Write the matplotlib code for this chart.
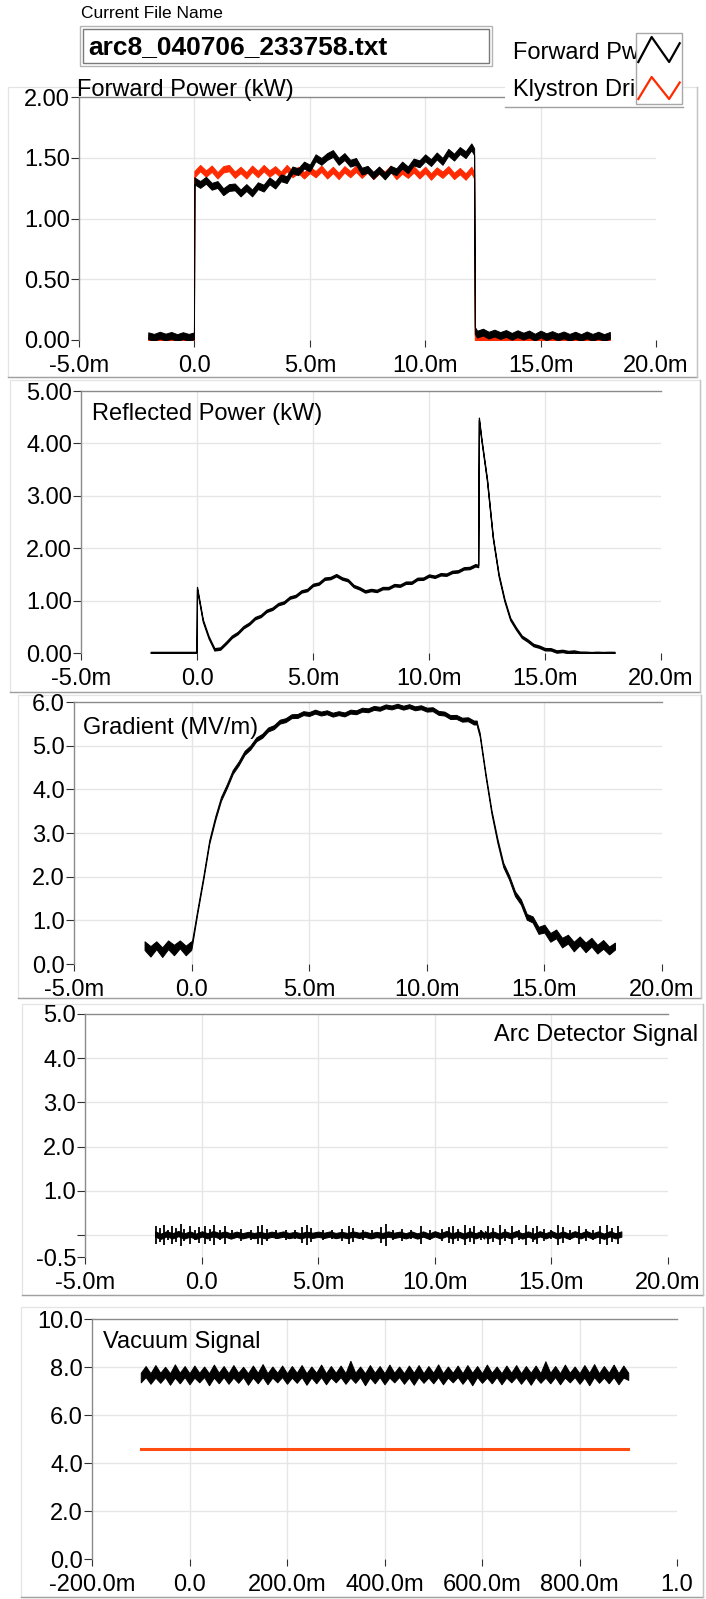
import matplotlib
matplotlib.use("Agg")
import matplotlib.pyplot as plt
import numpy as np
from matplotlib.patches import Rectangle
from matplotlib.lines import Line2D

W, H = 706, 1599
FONT = "Liberation Sans"
TICK_SIZE = 17
TITLE_SIZE = 17

FILE_NAME = "arc8_040706_233758.txt"
LEGEND_NAMES = ["Forward Pw", "Klystron Dri"]

# time base for the four pulse traces (ms): before, during and after the pulse
T_PRE = [-2.0, -1.75, -1.5, -1.25, -1.0, -0.75, -0.5, -0.25, -0.02]
T_ON = [0.0, 0.25, 0.5, 0.75, 1.0, 1.25, 1.5, 1.75, 2.0, 2.25,
        2.5, 2.75, 3.0, 3.25, 3.5, 3.75, 4.0, 4.25, 4.5, 4.75,
        5.0, 5.25, 5.5, 5.75, 6.0, 6.25, 6.5, 6.75, 7.0, 7.25,
        7.5, 7.75, 8.0, 8.25, 8.5, 8.75, 9.0, 9.25, 9.5, 9.75,
        10.0, 10.25, 10.5, 10.75, 11.0, 11.25, 11.5, 11.75, 12.0, 12.12]
T_OFF = [12.15, 12.25, 12.5, 12.75, 13.0, 13.25, 13.5, 13.75, 14.0, 14.25,
         14.5, 14.75, 15.0, 15.25, 15.5, 15.75, 16.0, 16.25, 16.5, 16.75,
         17.0, 17.25, 17.5, 17.75, 18.0]

# forward power (kW), black trace: smooth level + signed noise sample
FWD_MID = ([0.03] * 9 +
           [1.30, 1.30, 1.29, 1.28, 1.26, 1.25, 1.24, 1.23, 1.23, 1.23,
            1.24, 1.25, 1.26, 1.28, 1.30, 1.32, 1.34, 1.37, 1.40, 1.42,
            1.44, 1.47, 1.49, 1.50, 1.51, 1.50, 1.49, 1.47, 1.44, 1.41,
            1.39, 1.38, 1.37, 1.37, 1.38, 1.40, 1.42, 1.43, 1.44, 1.46,
            1.47, 1.48, 1.49, 1.50, 1.51, 1.52, 1.53, 1.55, 1.56, 1.56] +
           [0.07, 0.06, 0.05, 0.05, 0.045, 0.045, 0.04, 0.04, 0.04, 0.04,
            0.04, 0.035, 0.035, 0.035, 0.035, 0.035, 0.03, 0.03, 0.03, 0.03,
            0.03, 0.03, 0.03, 0.03, 0.03])
FWD_JIT = ([0.005, -0.008, 0.01, -0.006, 0.008, -0.01, 0.006, -0.008, 0.004] +
           [0.01, -0.02, 0.025, -0.015, 0.02, -0.03, 0.015, 0.03, -0.02, 0.025,
            -0.03, 0.02, -0.01, 0.03, -0.025, 0.015, -0.02, 0.03, -0.015, 0.02,
            -0.025, 0.03, -0.02, 0.01, 0.025, -0.03, 0.02, -0.015, 0.03, -0.02,
            0.015, -0.025, 0.03, -0.02, 0.025, -0.015, 0.02, -0.03, 0.025, -0.01,
            0.03, -0.02, 0.025, -0.03, 0.035, -0.015, 0.03, -0.025, 0.03, -0.01] +
           [0.01, -0.012, 0.015, -0.01, 0.012, -0.008, 0.014, -0.01, 0.012, -0.008,
            0.01, -0.012, 0.014, -0.008, 0.01, -0.01, 0.012, -0.008, 0.01, -0.01,
            0.012, -0.008, 0.01, -0.01, 0.008])
FWD_TH = 0.028

# klystron drive, red trace
KLY_MID = ([0.01] * 9 +
           [1.385] * 20 + [1.38] * 15 + [1.375] * 15 +
           [0.01] * 25)
KLY_JIT = ([0.004, -0.005, 0.003, -0.004, 0.005, -0.003, 0.004, -0.005, 0.003] +
           [-0.02, 0.03, -0.015, 0.025, -0.03, 0.02, 0.03, -0.025, 0.015, -0.03,
            0.025, -0.02, 0.03, -0.015, 0.02, -0.025, 0.03, -0.02, 0.015, -0.03,
            0.02, -0.015, 0.03, -0.025, 0.02, -0.03, 0.025, -0.015, 0.03, -0.02,
            0.025, -0.03, 0.015, -0.02, 0.03, -0.025, 0.02, -0.015, 0.03, -0.02,
            0.025, -0.03, 0.02, -0.015, 0.03, -0.025, 0.015, -0.03, 0.025, -0.02] +
           [0.004, -0.005, 0.003, -0.004, 0.005, -0.003, 0.004, -0.005, 0.003, -0.004,
            0.005, -0.003, 0.004, -0.005, 0.003, -0.004, 0.005, -0.003, 0.004, -0.005,
            0.003, -0.004, 0.005, -0.003, 0.004])
KLY_TH = 0.026

# reflected power (kW)
REF_MID = ([0.0] * 9 +
           [1.24, 0.62, 0.30, 0.07, 0.08, 0.20, 0.30, 0.39, 0.48, 0.57,
            0.65, 0.72, 0.79, 0.86, 0.92, 0.98, 1.04, 1.10, 1.16, 1.22,
            1.28, 1.34, 1.40, 1.45, 1.47, 1.44, 1.37, 1.29, 1.22, 1.19,
            1.19, 1.20, 1.22, 1.25, 1.28, 1.30, 1.33, 1.36, 1.40, 1.43,
            1.46, 1.47, 1.49, 1.51, 1.53, 1.57, 1.60, 1.64, 1.66, 1.66] +
           [4.47, 4.10, 3.30, 2.20, 1.50, 1.00, 0.66, 0.46, 0.32, 0.23,
            0.16, 0.11, 0.08, 0.06, 0.04, 0.03, 0.03, 0.02, 0.01, 0.0,
            0.0, 0.0, 0.0, 0.0, 0.0])
REF_JIT = ([0.0] * 9 +
           [0.0, 0.0, 0.0, 0.0, 0.005, -0.008, 0.01, -0.01, 0.012, -0.01,
            0.015, -0.012, 0.015, -0.015, 0.012, -0.015, 0.018, -0.012, 0.015, -0.018,
            0.02, -0.015, 0.018, -0.02, 0.015, -0.018, 0.02, -0.012, 0.015, -0.015,
            0.012, -0.015, 0.018, -0.012, 0.015, -0.015, 0.012, -0.018, 0.015, -0.012,
            0.018, -0.015, 0.012, -0.015, 0.018, -0.012, 0.015, -0.018, 0.015, 0.0] +
           [0.0, 0.0, 0.0, 0.01, -0.01, 0.01, -0.01, 0.008, -0.01, 0.008,
            -0.008, 0.01, -0.008, 0.01, -0.012, 0.01, -0.012, 0.008, -0.005, 0.004,
            -0.003, 0.003, -0.002, 0.002, 0.0])
REF_TH = 0.022

# gradient (MV/m)
GRAD_MID = ([0.36, 0.37, 0.38, 0.36, 0.37, 0.38, 0.37, 0.36, 0.38] +
            [0.42, 1.20, 2.00, 2.78, 3.35, 3.76, 4.09, 4.38, 4.62, 4.82,
             4.98, 5.12, 5.24, 5.35, 5.45, 5.53, 5.60, 5.65, 5.70, 5.73,
             5.75, 5.76, 5.75, 5.74, 5.73, 5.73, 5.74, 5.76, 5.78, 5.80,
             5.83, 5.85, 5.87, 5.88, 5.89, 5.89, 5.89, 5.89, 5.88, 5.86,
             5.84, 5.81, 5.77, 5.72, 5.68, 5.64, 5.61, 5.58, 5.55, 5.53] +
            [5.45, 5.25, 4.30, 3.50, 2.80, 2.30, 1.95, 1.65, 1.38, 1.13,
             0.97, 0.83, 0.74, 0.67, 0.61, 0.56, 0.51, 0.48, 0.46, 0.44,
             0.42, 0.40, 0.39, 0.38, 0.37])
GRAD_JIT = ([0.06, -0.08, 0.05, -0.09, 0.07, -0.06, 0.08, -0.05, 0.04] +
            [0.0, 0.02, -0.02, 0.015, -0.02, 0.025, -0.015, 0.02, -0.025, 0.015,
             -0.02, 0.025, -0.015, 0.02, -0.025, 0.02, -0.015, 0.025, -0.02, 0.015,
             -0.025, 0.02, -0.015, 0.025, -0.02, 0.015, -0.025, 0.02, -0.015, 0.025,
             -0.02, 0.015, -0.025, 0.02, -0.015, 0.025, -0.02, 0.015, -0.025, 0.02,
             -0.015, 0.025, -0.02, 0.015, -0.025, 0.02, -0.015, 0.025, -0.02, 0.0] +
            [0.0, 0.0, 0.02, -0.02, 0.025, -0.03, 0.03, -0.04, 0.04, -0.05,
             0.05, -0.06, 0.07, -0.06, 0.08, -0.07, 0.06, -0.08, 0.07, -0.06,
             0.08, -0.06, 0.06, -0.07, 0.04])
GRAD_TH = ([0.10, 0.12, 0.09, 0.11, 0.10, 0.12, 0.09, 0.11, 0.10] +
           [0.06] + [0.045] * 49 +
           [0.045, 0.045, 0.045, 0.045, 0.05, 0.05, 0.05, 0.055, 0.06, 0.065,
            0.07, 0.08, 0.09, 0.10, 0.10, 0.11, 0.10, 0.11, 0.10, 0.11,
            0.10, 0.10, 0.10, 0.09, 0.08])

# arc detector signal: thin noise core around zero plus spikes
ARC_LEVEL = 0.0
ARC_JIT = ([0.02, -0.03, 0.025, -0.02, 0.03, -0.025, 0.02, -0.03, 0.015] +
           [0.025, -0.02, 0.03, -0.015, 0.02, -0.025, 0.015, -0.02, 0.01, -0.015,
            0.01, -0.02, 0.015, -0.01, 0.02, -0.015, 0.01, -0.02, 0.015, -0.01,
            0.015, -0.01, 0.02, -0.015, 0.01, -0.015, 0.02, -0.01, 0.015, -0.02,
            0.01, -0.015, 0.02, -0.01, 0.015, -0.02, 0.02, -0.025, 0.02, -0.03,
            0.025, -0.02, 0.03, -0.025, 0.02, -0.03, 0.025, -0.02, 0.03, -0.025] +
           [0.03, -0.025, 0.02, -0.03, 0.025, -0.02, 0.03, -0.025, 0.02, -0.03,
            0.025, -0.02, 0.03, -0.025, 0.02, -0.03, 0.025, -0.02, 0.03, -0.025,
            0.02, -0.03, 0.025, -0.02, 0.02])
ARC_TH = 0.06
ARC_SPIKE_T = [-1.95, -1.8, -1.6, -1.45, -1.25, -1.1, -0.9, -0.75, -0.5, -0.3, -0.1,
               0.15, 0.35, 0.55, 0.8, 1.0, 1.3, 1.7, 2.1, 2.4, 2.6, 2.8, 3.2, 3.6,
               4.0, 4.3, 4.5, 4.7, 5.2, 5.6, 6.0, 6.3, 6.5, 6.9, 7.3, 7.7, 7.9,
               8.2, 8.6, 9.0, 9.4, 9.8, 10.3, 10.6, 10.8, 11.0, 11.3, 11.5, 11.7,
               12.0, 12.3, 12.5, 12.8, 13.0, 13.3, 13.6, 13.9, 14.2, 14.4, 14.7,
               15.0, 15.3, 15.5, 15.8, 16.2, 16.5, 16.8, 17.1, 17.4, 17.6, 17.85]
ARC_SPIKE_H = [0.20, 0.15, 0.22, 0.12, 0.20, 0.16, 0.24, 0.14, 0.20, 0.12, 0.18,
               0.20, 0.14, 0.22, 0.12, 0.20, 0.10, 0.14, 0.12, 0.20, 0.22, 0.14, 0.10, 0.12,
               0.10, 0.18, 0.22, 0.16, 0.12, 0.10, 0.14, 0.20, 0.16, 0.12, 0.10, 0.18, 0.24,
               0.12, 0.14, 0.10, 0.20, 0.12, 0.14, 0.18, 0.20, 0.14, 0.22, 0.16, 0.20,
               0.12, 0.20, 0.16, 0.22, 0.14, 0.20, 0.12, 0.22, 0.16, 0.20, 0.14,
               0.10, 0.22, 0.18, 0.12, 0.20, 0.14, 0.12, 0.20, 0.22, 0.16, 0.20]

# vacuum signal (s): black level with spikes, red reference level
VAC_START, VAC_STOP = -0.1, 0.9
VAC_LEVEL = 7.66
VAC_UP = [0.10, 0.38, 0.08, 0.42, 0.10, 0.35, 0.08, 0.45, 0.10, 0.38,
          0.08, 0.40, 0.10, 0.36, 0.08, 0.44, 0.10, 0.38, 0.08, 0.42,
          0.10, 0.35, 0.08, 0.40, 0.10, 0.46, 0.08, 0.36, 0.10, 0.40,
          0.08, 0.38, 0.10, 0.42, 0.08, 0.36, 0.10, 0.44, 0.08, 0.38,
          0.10, 0.40, 0.08, 0.60, 0.10, 0.36, 0.08, 0.42, 0.10, 0.38,
          0.08, 0.44, 0.10, 0.36, 0.08, 0.40, 0.10, 0.42, 0.08, 0.38,
          0.10, 0.45, 0.08, 0.36, 0.10, 0.40, 0.08, 0.42, 0.10, 0.38,
          0.08, 0.44, 0.10, 0.36, 0.08, 0.40, 0.10, 0.42, 0.08, 0.38,
          0.10, 0.40, 0.08, 0.58, 0.10, 0.38, 0.08, 0.44, 0.10, 0.36,
          0.08, 0.42, 0.10, 0.46, 0.08, 0.38, 0.10, 0.44, 0.08, 0.40,
          0.10]
VAC_DN = [0.30, 0.08, 0.36, 0.10, 0.32, 0.08, 0.40, 0.10, 0.34, 0.08,
          0.38, 0.10, 0.30, 0.08, 0.42, 0.10, 0.34, 0.08, 0.36, 0.10,
          0.32, 0.08, 0.40, 0.10, 0.34, 0.08, 0.38, 0.10, 0.30, 0.08,
          0.36, 0.10, 0.32, 0.08, 0.40, 0.10, 0.34, 0.08, 0.38, 0.10,
          0.30, 0.08, 0.36, 0.10, 0.32, 0.08, 0.42, 0.10, 0.34, 0.08,
          0.38, 0.10, 0.30, 0.08, 0.36, 0.10, 0.40, 0.08, 0.32, 0.10,
          0.34, 0.08, 0.38, 0.10, 0.30, 0.08, 0.36, 0.10, 0.42, 0.08,
          0.32, 0.10, 0.34, 0.08, 0.38, 0.10, 0.30, 0.08, 0.36, 0.10,
          0.40, 0.08, 0.32, 0.10, 0.34, 0.08, 0.38, 0.10, 0.30, 0.08,
          0.36, 0.10, 0.42, 0.08, 0.32, 0.10, 0.34, 0.08, 0.38, 0.10,
          0.20]
VAC_REF_LEVEL = 4.6

MS_TICKS = [-5, 0, 5, 10, 15, 20]
MS_LABELS = ["-5.0m", "0.0", "5.0m", "10.0m", "15.0m", "20.0m"]
S_TICKS = [-0.2, 0.0, 0.2, 0.4, 0.6, 0.8, 1.0]
S_LABELS = ["-200.0m", "0.0", "200.0m", "400.0m", "600.0m", "800.0m", "1.0"]

RED = "#ff2a00"
ORANGE = "#ff4d12"
GRID = "#e6e6e6"
AXIS = "#8a8a8a"
FRAME = "#e4e4e4"
FRAME_DARK = "#a0a0a0"


def fx(x):
    return x / W


def fy(y):
    return 1 - y / H


def add_frame(fig, left, top, right, bottom):
    fig.add_artist(Rectangle((fx(left), fy(bottom)), (right - left) / W, (bottom - top) / H,
                             transform=fig.transFigure, fill=False, edgecolor=FRAME, lw=0.9, zorder=-1))
    fig.add_artist(Line2D([fx(left), fx(right)], [fy(bottom), fy(bottom)],
                          transform=fig.transFigure, color=FRAME_DARK, lw=1.0, zorder=-1))
    fig.add_artist(Line2D([fx(right), fx(right)], [fy(top), fy(bottom)],
                          transform=fig.transFigure, color="#c4c4c4", lw=1.0, zorder=-1))


def add_panel(fig, box, xlim, ylim, xticks, xlabels, yticks, ylabels):
    left, top, right, bottom = box
    ax = fig.add_axes([fx(left), fy(bottom), (right - left) / W, (bottom - top) / H])
    ax.set_facecolor("none")
    ax.set_xlim(*xlim)
    ax.set_ylim(*ylim)
    for side in ("right", "bottom"):
        ax.spines[side].set_visible(False)
    for side in ("left", "top"):
        ax.spines[side].set_color(AXIS)
        ax.spines[side].set_linewidth(1.0)
    ax.set_xticks(xticks)
    ax.set_xticklabels(xlabels, fontsize=TICK_SIZE, fontfamily=FONT)
    ax.set_yticks(yticks)
    ax.set_yticklabels(ylabels, fontsize=TICK_SIZE, fontfamily=FONT)
    ax.tick_params(axis="y", direction="out", length=5.8, width=0.8, color="#303030", pad=0.6)
    ax.tick_params(axis="x", direction="out", length=5.0, width=0.8, color="#303030", pad=5.5)
    for v in yticks:
        if ylim[0] < v < ylim[1]:
            ax.axhline(v, color=GRID, lw=1.0, zorder=0)
    for v in xticks:
        if xlim[0] < v < xlim[1]:
            ax.axvline(v, color=GRID, lw=1.0, zorder=0)
    return ax


def trace(ax, t, mid, jit, th, color, lw=0.7):
    # noisy trace drawn as a ribbon following level + noise sample
    y = np.asarray(mid, dtype=float) + np.asarray(jit, dtype=float)
    th = np.asarray(th, dtype=float)
    ax.fill_between(t, y - th, y + th, color=color, lw=lw, edgecolor=color, zorder=3)


def main():
    plt.rcParams["font.family"] = FONT
    fig = plt.figure(figsize=(W / 100, H / 100), dpi=100)
    fig.patch.set_facecolor("white")

    t = np.array(T_PRE + T_ON + T_OFF)

    # header: file name box
    fig.text(fx(81), fy(13), "Current File Name", fontsize=12.5, va="center", ha="left")
    fig.add_artist(Rectangle((fx(80), fy(66)), (492 - 80) / W, (66 - 26) / H, transform=fig.transFigure,
                             facecolor="white", edgecolor="#b4b4b4", lw=1.0))
    fig.add_artist(Rectangle((fx(83), fy(63)), (489 - 83) / W, (63 - 29) / H, transform=fig.transFigure,
                             facecolor="white", edgecolor="#7a7a7a", lw=1.0))
    fig.text(fx(88), fy(47), FILE_NAME, fontsize=19, fontweight="bold", va="center", ha="left")

    # panel frames
    add_frame(fig, 8, 87, 697, 377)
    add_frame(fig, 10, 380, 700, 692)
    add_frame(fig, 18, 695, 701, 998)
    add_frame(fig, 22, 1004, 703, 1295)
    add_frame(fig, 21, 1307, 703, 1597)

    # 1: forward power + klystron drive
    ax1 = add_panel(fig, (79, 97, 656, 340), (-5, 20), (0, 2), MS_TICKS, MS_LABELS,
                    [0, 0.5, 1.0, 1.5, 2.0], ["0.00", "0.50", "1.00", "1.50", "2.00"])
    trace(ax1, t, KLY_MID, KLY_JIT, KLY_TH, RED)
    trace(ax1, t, FWD_MID, FWD_JIT, FWD_TH, "black")
    fig.text(fx(77), fy(90), "Forward Power (kW)", fontsize=TITLE_SIZE, va="center", ha="left")

    # 2: reflected power
    ax2 = add_panel(fig, (81, 391, 661, 653), (-5, 20), (0, 5), MS_TICKS, MS_LABELS,
                    [0, 1, 2, 3, 4, 5], ["0.00", "1.00", "2.00", "3.00", "4.00", "5.00"])
    trace(ax2, t, REF_MID, REF_JIT, REF_TH, "black", lw=0.9)
    fig.text(fx(92), fy(414), "Reflected Power (kW)", fontsize=TITLE_SIZE, va="center", ha="left")

    # 3: gradient
    ax3 = add_panel(fig, (74, 702, 662, 964), (-5, 20), (0, 6), MS_TICKS, MS_LABELS,
                    [0, 1, 2, 3, 4, 5, 6], ["0.0", "1.0", "2.0", "3.0", "4.0", "5.0", "6.0"])
    trace(ax3, t, GRAD_MID, GRAD_JIT, GRAD_TH, "black")
    fig.text(fx(83), fy(728), "Gradient (MV/m)", fontsize=TITLE_SIZE, va="center", ha="left")

    # 4: arc detector
    ax4 = add_panel(fig, (85, 1014, 668, 1257), (-5, 20), (-0.5, 5), MS_TICKS, MS_LABELS,
                    [-0.5, 0, 1, 2, 3, 4, 5], ["-0.5", "", "1.0", "2.0", "3.0", "4.0", "5.0"])
    trace(ax4, t, [ARC_LEVEL] * len(t), ARC_JIT, ARC_TH, "black")
    spike_h = np.array(ARC_SPIKE_H)
    ax4.vlines(ARC_SPIKE_T, ARC_LEVEL - spike_h, ARC_LEVEL + spike_h, color="black", lw=1.3, zorder=3)
    fig.text(fx(698), fy(1035), "Arc Detector Signal", fontsize=TITLE_SIZE, va="center", ha="right")

    # 5: vacuum
    ax5 = add_panel(fig, (92, 1319, 677, 1559), (-0.2, 1.0), (0, 10), S_TICKS, S_LABELS,
                    [0, 2, 4, 6, 8, 10], ["0.0", "2.0", "4.0", "6.0", "8.0", "10.0"])
    tv = np.linspace(VAC_START, VAC_STOP, len(VAC_UP))
    ax5.fill_between(tv, VAC_LEVEL - np.array(VAC_DN), VAC_LEVEL + np.array(VAC_UP),
                     color="black", lw=0.7, edgecolor="black", zorder=3)
    ax5.plot([VAC_START, VAC_STOP], [VAC_REF_LEVEL, VAC_REF_LEVEL], color=ORANGE, lw=2.2, zorder=3)
    fig.text(fx(103), fy(1342), "Vacuum Signal", fontsize=TITLE_SIZE, va="center", ha="left")

    # legend of panel 1 (names clipped by the icon box, as in the original front panel)
    fig.add_artist(Rectangle((fx(505), fy(107)), (683 - 505) / W, (107 - 33) / H, transform=fig.transFigure,
                             facecolor="white", edgecolor="none", zorder=5))
    fig.add_artist(Line2D([fx(505), fx(683)], [fy(107), fy(107)], transform=fig.transFigure,
                          color=FRAME_DARK, lw=1.0, zorder=6))
    for name, yc in zip(LEGEND_NAMES, [53, 90]):
        fig.text(fx(513), fy(yc), name, fontsize=TITLE_SIZE, va="center", ha="left", zorder=6)
    ix0, ix1, iy0, iy1 = 636, 682, 33, 104
    fig.add_artist(Rectangle((fx(ix0), fy(iy1)), (ix1 - ix0) / W, (iy1 - iy0) / H, transform=fig.transFigure,
                             facecolor="white", edgecolor="#a8a8a8", lw=1.0, zorder=7))
    zig = [(0.05, 0.0), (0.34, 1.0), (0.72, 0.0), (0.95, 0.75)]
    for color, (ya, yb) in zip(["black", RED], [(62, 37), (99, 77)]):
        xs = [fx(ix0 + (ix1 - ix0) * a) for a, _ in zig]
        ys = [fy(ya + (yb - ya) * b) for _, b in zig]
        fig.add_artist(Line2D(xs, ys, transform=fig.transFigure, color=color, lw=1.6, zorder=8))

    fig.savefig("out.png", dpi=100, facecolor="white")
    plt.close(fig)


if __name__ == "__main__":
    main()
